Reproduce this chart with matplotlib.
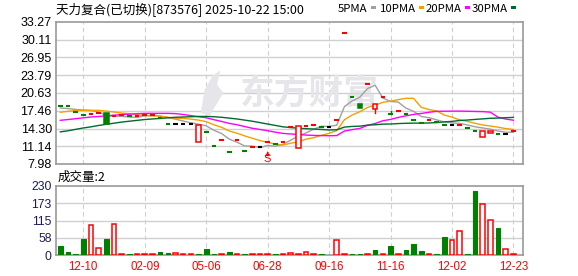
import matplotlib
matplotlib.use('Agg')
import matplotlib.pyplot as plt
import matplotlib.transforms as mtransforms
from matplotlib.patches import Rectangle, Polygon

plt.rcParams['font.family'] = ['Liberation Sans', 'Noto Sans CJK SC', 'DejaVu Sans']

# 日K数据, 60 根
opens = [18.31, 18.28, 17.24, 16.76, 16.89, 17.06, 17.12, 16.47, 16.65, 16.47,
         16.60, 16.70, 16.72, 16.17, 15.10, 15.10, 15.10, 15.10, 11.84, 13.68,
         11.13, 12.20, 10.12, 12.20, 10.35, 10.93, 10.93, 11.96, 11.60, 11.96,
         14.63, 10.83, 14.72, 14.93, 14.51, 14.51, 15.80, 31.31, 19.91, 18.61,
         22.17, 17.72, 19.91, 16.88, 17.37, 16.82, 15.82, 15.34, 15.82, 15.46,
         14.93, 14.93, 14.96, 14.39, 13.86, 12.84, 13.45, 13.32, 13.32, 13.86]
highs = [18.31, 18.28, 17.24, 16.76, 16.89, 17.06, 17.12, 16.47, 16.65, 16.47,
         16.60, 16.70, 16.72, 16.17, 15.10, 15.10, 15.10, 15.10, 14.93, 13.68,
         11.13, 12.20, 10.12, 12.20, 10.35, 10.93, 10.93, 11.96, 11.60, 11.96,
         14.63, 14.69, 14.72, 14.93, 14.51, 14.51, 15.80, 31.31, 19.91, 18.61,
         22.17, 18.72, 19.91, 17.42, 17.37, 16.82, 15.82, 15.34, 15.82, 15.46,
         14.93, 14.93, 14.96, 14.39, 13.86, 13.86, 13.86, 13.32, 13.32, 13.86]
lows = [18.31, 18.28, 17.24, 16.76, 16.89, 17.06, 15.16, 16.47, 16.65, 16.47,
        16.60, 16.70, 16.72, 16.17, 15.10, 15.10, 15.10, 15.10, 11.84, 13.68,
        11.13, 12.20, 10.12, 12.20, 10.35, 10.93, 10.93, 11.96, 11.60, 11.96,
        14.63, 10.83, 14.72, 14.93, 14.51, 14.51, 15.80, 31.31, 19.91, 17.90,
        22.17, 17.00, 19.91, 16.88, 17.37, 16.82, 15.82, 15.34, 15.82, 15.46,
        14.93, 14.93, 14.96, 14.39, 13.86, 12.84, 13.45, 13.32, 13.32, 13.86]
closes = [18.31, 18.28, 17.24, 16.76, 16.89, 17.06, 15.16, 16.47, 16.65, 16.47,
          16.60, 16.70, 16.72, 16.17, 15.10, 15.10, 15.10, 15.10, 14.93, 13.68,
          11.13, 12.20, 10.12, 12.20, 10.35, 10.93, 10.93, 11.96, 11.60, 11.96,
          14.63, 14.69, 14.72, 14.93, 14.51, 14.51, 15.80, 31.31, 19.91, 17.90,
          22.17, 18.72, 19.91, 16.88, 17.37, 16.82, 15.82, 15.34, 15.82, 15.46,
          14.93, 14.93, 14.96, 14.39, 13.86, 13.86, 13.86, 13.32, 13.32, 13.86]
prev_close_first = 18.40  # 第一根之前的收盘

volumes = [29, 10, 3, 52, 99, 22, 52, 102, 3, 3,
           3, 3, 3, 10, 6, 8, 3, 3, 3, 19,
           3, 3, 9, 3, 3, 3, 3, 3, 3, 5,
           7, 3, 11, 3, 3, 0, 49, 3, 3, 3,
           3, 16, 3, 29, 3, 16, 36, 12, 3, 3,
           59, 49, 81, 3, 212, 169, 118, 89, 21, 3]

ma5 = [17.95, 17.85, 17.70, 17.60, 17.50, 17.25, 16.62, 16.47, 16.45, 16.36,
       16.27, 16.58, 16.63, 16.53, 16.26, 15.96, 15.64, 15.31, 15.07, 14.78,
       13.99, 13.41, 12.41, 11.87, 11.20, 11.16, 10.91, 11.27, 11.15, 11.48,
       12.22, 12.97, 13.52, 14.19, 14.70, 14.67, 14.89, 18.21, 19.21, 19.89,
       21.42, 22.00, 19.72, 19.12, 19.01, 17.94, 17.36, 16.45, 16.23, 15.85,
       15.47, 15.30, 15.22, 14.93, 14.61, 14.40, 14.19, 13.86, 13.64, 13.64]
ma10 = [17.19, 17.37, 17.50, 17.54, 17.54, 17.54, 17.40, 17.24, 17.05, 16.93,
        16.76, 16.60, 16.55, 16.49, 16.31, 16.11, 16.11, 15.97, 15.80, 15.52,
        14.97, 14.52, 13.86, 13.47, 12.99, 12.57, 12.16, 11.84, 11.51, 11.34,
        11.69, 11.94, 12.40, 12.67, 13.09, 13.44, 13.93, 15.87, 16.70, 17.29,
        18.05, 18.45, 18.97, 19.16, 19.45, 19.68, 19.68, 18.08, 17.68, 17.43,
        16.71, 16.33, 15.83, 15.58, 15.23, 14.94, 14.74, 14.54, 14.29, 14.13]
ma20 = [15.76, 15.90, 16.05, 16.20, 16.35, 16.45, 16.55, 16.68, 16.78, 16.86,
        16.94, 17.00, 17.00, 17.00, 17.00, 16.95, 16.80, 16.60, 16.40, 16.22,
        15.87, 15.56, 15.21, 14.98, 14.65, 14.34, 14.13, 13.91, 13.65, 13.43,
        13.33, 13.23, 13.13, 13.07, 13.04, 13.01, 13.04, 13.85, 14.10, 14.31,
        14.87, 15.19, 15.68, 15.92, 16.27, 16.56, 16.81, 16.98, 17.19, 17.36,
        17.38, 17.39, 17.40, 17.37, 17.34, 17.31, 17.21, 16.31, 15.98, 15.78]
ma30 = [13.70, 13.90, 14.15, 14.40, 14.60, 14.85, 15.05, 15.25, 15.45, 15.60,
        15.75, 15.90, 16.00, 16.10, 16.20, 16.30, 16.35, 16.40, 16.45, 16.45,
        16.40, 16.30, 16.15, 16.00, 15.80, 15.60, 15.35, 15.10, 14.85, 14.60,
        14.47, 14.35, 14.27, 14.21, 14.13, 14.04, 14.07, 14.56, 14.67, 14.72,
        14.90, 14.97, 15.08, 15.10, 15.18, 15.23, 15.26, 15.26, 15.29, 15.35,
        15.48, 15.57, 15.73, 15.81, 15.92, 16.02, 16.12, 16.16, 16.22, 16.28]

date_labels = ['12-10', '02-09', '05-06', '06-28', '09-16', '11-16', '12-02', '12-23']
date_index = [3, 11, 19, 27, 35, 43, 51, 59]
price_ticks = [7.98, 11.14, 14.30, 17.46, 20.63, 23.79, 26.95, 30.11, 33.27]
vol_ticks = [0, 58, 115, 173, 230]
signal_index = 27  # S 点

title = '天力复合(已切换)[873576] 2025-10-22 15:00'
ma_names = ['5PMA', '10PMA', '20PMA', '30PMA']
ma_colors = ['#a0a0a0', '#f5a000', '#ff00ff', '#006b30']

RED = '#ff0000'
GREEN = '#008000'
GRID = '#d0d0d0'
FRAME = '#999999'
WATER = '#e6e6ea'

W, H = 578, 276
fig = plt.figure(figsize=(W / 100, H / 100), dpi=100)
ax = fig.add_axes([56 / W, 1 - 164 / H, 467 / W, 142 / H])
axv = fig.add_axes([56 / W, 1 - 255 / H, 467 / W, 69 / H])

n = len(closes)
xs = list(range(n))

for a in (ax, axv):
    a.set_xlim(-0.56, 60.25)
    for s in a.spines.values():
        s.set_color(FRAME)
        s.set_linewidth(1.2)
    a.tick_params(length=0)
    for d in date_index:
        a.axvline(d, color=GRID, lw=0.8, dashes=(4, 3), zorder=0)

# 主图
ax.set_ylim(price_ticks[0], price_ticks[-1])
ax.set_yticks(price_ticks)
ax.set_yticklabels(['%.2f' % p for p in price_ticks], fontsize=9)
ax.tick_params(axis='y', pad=3)
ax.set_xticks([])
for p in price_ticks[1:-1]:
    ax.axhline(p, color=GRID, lw=1, zorder=0)

# 水印
ax.text(0.543, 0.5, '东方财富', transform=ax.transAxes, ha='center', va='center',
        fontsize=25, fontweight='bold', color=WATER, zorder=0,
        family=['Noto Sans CJK SC'])
logo = [(0.310, 0.36), (0.318, 0.52), (0.335, 0.62), (0.352, 0.66),
        (0.345, 0.56), (0.358, 0.50), (0.340, 0.40), (0.330, 0.34)]
ax.add_patch(Polygon(logo, closed=True, transform=ax.transAxes,
                     facecolor=WATER, edgecolor='none', zorder=0))

for ma, col in zip([ma5, ma10, ma20, ma30], ma_colors):
    ax.plot(xs, ma, color=col, lw=1.0, zorder=2)

half = 0.3
for i in xs:
    o, h, l, c = opens[i], highs[i], lows[i], closes[i]
    prev = closes[i - 1] if i > 0 else prev_close_first
    if c > o:
        col = RED
    elif c < o:
        col = GREEN
    elif c > prev:
        col = RED
    elif c < prev:
        col = GREEN
    else:
        col = 'black'
    if h > max(o, c) or l < min(o, c):
        ax.plot([i, i], [l, h], color=col, lw=1, zorder=3)
    if o == c:
        ax.plot([i - half, i + half], [c, c], color=col, lw=1.5,
                solid_capstyle='butt', zorder=4)
    elif c > o:
        ax.add_patch(Rectangle((i - half, o), 2 * half, c - o, facecolor='white',
                               edgecolor=col, lw=1.1, zorder=4))
    else:
        ax.add_patch(Rectangle((i - half, c), 2 * half, o - c, facecolor=col,
                               edgecolor=col, lw=1.1, zorder=4))

# S 标记
trans = mtransforms.blended_transform_factory(ax.transData, ax.transAxes)
ax.text(signal_index, 0.0, 'S', transform=trans, ha='center', va='bottom',
        color=RED, fontsize=8)
ax.annotate('', xy=(signal_index, 0.088), xycoords=trans,
            xytext=(signal_index, 0.058), textcoords=trans,
            arrowprops=dict(arrowstyle='-|>', color=RED, lw=0.8, mutation_scale=5))

# 成交量
axv.set_ylim(0, 230)
axv.set_yticks(vol_ticks)
axv.set_yticklabels([str(v) for v in vol_ticks], fontsize=8.7, color='#1c1c5c')
axv.tick_params(axis='y', pad=3)
for v in vol_ticks[1:-1]:
    axv.axhline(v, color=GRID, lw=1, zorder=0)
for i in xs:
    prev = closes[i - 1] if i > 0 else prev_close_first
    if volumes[i] <= 0:
        continue
    if closes[i] >= prev:
        axv.add_patch(Rectangle((i - half, 0), 2 * half, volumes[i], facecolor='white',
                                edgecolor=RED, lw=1.1, zorder=3))
    else:
        axv.add_patch(Rectangle((i - half, 0), 2 * half, volumes[i], facecolor=GREEN,
                                edgecolor=GREEN, lw=0.8, zorder=3))
axv.set_xticks(date_index)
axv.set_xticklabels(date_labels, fontsize=8.3, color=RED)
axv.tick_params(axis='x', pad=4)

# 标题与图例
fig.text(56 / W, 1 - 10 / H, title, fontsize=9, va='center', ha='left',
         family=['Noto Sans CJK SC', 'DejaVu Sans'])
leg_x = [338, 380, 426, 472]
leg_texts = []
for name, lx in zip(ma_names, leg_x):
    leg_texts.append(fig.text(lx / W, 1 - 9 / H, name, fontsize=8.2, va='center',
                              ha='left', family=['Noto Sans CJK SC', 'DejaVu Sans']))
fig.canvas.draw()
r = fig.canvas.get_renderer()
for t, col in zip(leg_texts, ma_colors):
    bb = t.get_window_extent(r)
    x0 = (bb.x1 + 3) / W
    fig.patches.append(Rectangle((x0, 1 - 9 / H), 5 / W, 3 / H, transform=fig.transFigure,
                                 facecolor=col, edgecolor='none'))

fig.text(58 / W, 1 - 177 / H, '成交量:2', fontsize=9, va='center', ha='left',
         family=['Noto Sans CJK SC', 'DejaVu Sans'])

fig.savefig('out.png', dpi=100)
